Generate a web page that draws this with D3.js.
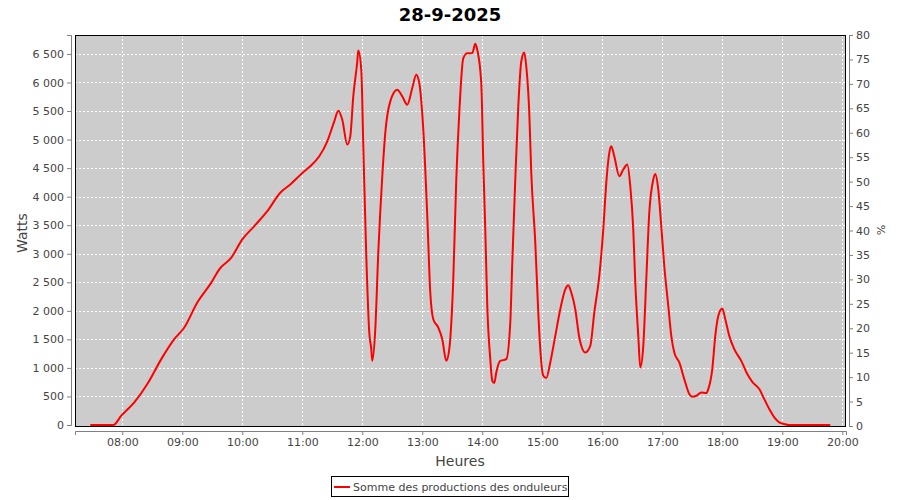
<!DOCTYPE html>
<html><head><meta charset="utf-8">
<script src="https://cdn.jsdelivr.net/npm/d3@7"></script>
<style>body{margin:0;background:#fff;} svg{display:block;font-family:"DejaVu Sans",sans-serif;}</style>
</head><body><svg id="c" width="900" height="500"></svg>
<script>
const title = "28-9-2025";
const seriesName = "Somme des productions des onduleurs";
const times = ["07:28","07:51","07:59","08:12","08:26","08:39","08:52","09:02","09:15","09:29","09:37","09:49","10:00","10:12","10:25","10:38","10:48","11:02","11:08","11:17","11:25","11:32","11:36","11:40","11:45","11:48","11:51","11:55","11:56","11:59","12:01","12:04","12:07","12:09","12:10","12:13","12:16","12:20","12:23","12:28","12:35","12:40","12:45","12:50","12:54","12:57","13:01","13:05","13:08","13:11","13:16","13:20","13:24","13:27","13:31","13:34","13:37","13:41","13:45","13:50","13:53","13:55","13:59","14:01","14:03","14:05","14:08","14:10","14:12","14:14","14:18","14:21","14:24","14:28","14:30","14:33","14:36","14:39","14:42","14:44","14:47","14:49","14:53","14:56","14:58","15:01","15:04","15:08","15:13","15:18","15:23","15:26","15:29","15:33","15:37","15:43","15:48","15:52","15:57","16:01","16:04","16:07","16:09","16:12","16:17","16:21","16:25","16:28","16:31","16:33","16:36","16:38","16:41","16:44","16:47","16:51","16:53","16:56","16:59","17:02","17:06","17:09","17:12","17:17","17:22","17:27","17:30","17:34","17:39","17:44","17:46","17:50","17:53","17:56","18:00","18:03","18:07","18:12","18:19","18:25","18:30","18:37","18:42","18:47","18:52","18:57","19:02","19:07","19:48"];
const watts = [0,0,163,397,746,1154,1503,1708,2145,2494,2727,2931,3251,3484,3746,4068,4213,4446,4533,4708,4970,5319,5506,5349,4912,5057,5756,6368,6560,6223,4900,2960,1620,1328,1124,1678,3019,4358,5116,5669,5873,5756,5611,5903,6136,5990,5174,3659,2320,1853,1708,1503,1124,1328,2552,4300,5466,6427,6514,6514,6677,6572,5990,4592,3426,2086,1154,774,734,921,1124,1136,1154,1795,2844,4300,5582,6368,6525,6281,5466,4416,3194,1970,1328,862,822,1096,1561,2028,2377,2447,2320,2028,1533,1271,1386,1970,2610,3426,4242,4766,4882,4708,4358,4475,4562,4183,3426,2494,1561,1008,1386,2552,3718,4300,4399,4125,3484,2785,2086,1561,1271,1096,804,542,495,512,571,559,629,979,1561,1910,2040,1853,1561,1328,1124,892,757,629,454,280,134,47,17,0,0];
const hourTicks = ["08:00","09:00","10:00","11:00","12:00","13:00","14:00","15:00","16:00","17:00","18:00","19:00","20:00"];
const wattTicks = [0,500,1000,1500,2000,2500,3000,3500,4000,4500,5000,5500,6000,6500];
const pctTicks = [0,5,10,15,20,25,30,35,40,45,50,55,60,65,70,75,80];

const toH = s => { const [h,m] = s.split(":").map(Number); return h + m/60; };
const data = times.map((t,i)=>({t:toH(t), v:watts[i]}));

const L=75, R=846, T=35, B=426;
const svg = d3.select("#c");
const x = d3.scaleLinear().domain([7.212, 20.062]).range([L, R]);
const y = d3.scaleLinear().domain([0, 6832]).range([B-1, T]);
const y2 = d3.scaleLinear().domain([0, 80]).range([B, T]);
const fmt = d => d3.format(",")(d).replace(/,/g, " ");

svg.append("text").attr("x",450).attr("y",21).attr("text-anchor","middle")
  .attr("font-size",18).attr("font-weight","bold").attr("fill","#000").text(title);

svg.append("rect").attr("x",L).attr("y",T).attr("width",R-L).attr("height",B-T).attr("fill","#cccccc");

const g = svg.append("g");
hourTicks.forEach(h=>{
  const xx = Math.round(x(toH(h)))+0.5;
  g.append("line").attr("x1",xx).attr("x2",xx).attr("y1",T).attr("y2",B)
   .attr("stroke","#fff").attr("stroke-dasharray","2,2");
});
wattTicks.forEach(v=>{
  const yy = Math.round(y(v))+0.5;
  if (v===0) return;
  g.append("line").attr("x1",L).attr("x2",R).attr("y1",yy).attr("y2",yy)
   .attr("stroke","#fff").attr("stroke-dasharray","2,2");
});

svg.append("rect").attr("x",L+0.5).attr("y",T+0.5).attr("width",R-L-1).attr("height",B-T)
  .attr("fill","none").attr("stroke","#000").attr("stroke-width",1);

svg.append("clipPath").attr("id","clip").append("rect").attr("x",L).attr("y",T).attr("width",R-L).attr("height",B-T+2);
const line = d3.line().x(d=>x(d.t)).y(d=>y(d.v)).curve(d3.curveMonotoneX);
svg.append("path").datum(data).attr("d",line).attr("fill","none").attr("stroke","#ff0000")
  .attr("stroke-width",2).attr("clip-path","url(#clip)");

// left axis
const ya = d3.axisLeft(y).tickValues(wattTicks).tickFormat(fmt).tickSizeOuter(0).tickSize(4).tickPadding(3);
const gy = svg.append("g").attr("transform","translate(71,0)").call(ya);
// right axis
const ya2 = d3.axisRight(y2).tickValues(pctTicks).tickSizeOuter(0).tickSize(4).tickPadding(3);
const gy2 = svg.append("g").attr("transform","translate(849,0)").call(ya2);
// bottom axis
const xa = d3.axisBottom(x).tickValues(hourTicks.map(toH)).tickFormat((d,i)=>hourTicks[i]).tickSizeOuter(0).tickSize(4).tickPadding(3);
const gx = svg.append("g").attr("transform","translate(0,431)").call(xa);
[gy,gy2,gx].forEach(a=>{
  a.selectAll(".domain").attr("stroke","#808080");
  a.selectAll(".tick line").attr("stroke","#808080");
  a.selectAll("text").attr("font-size",11).attr("fill","#444").attr("font-family","DejaVu Sans");
});

svg.append("text").attr("transform","translate(27,233) rotate(-90)").attr("text-anchor","middle")
  .attr("font-size",14).attr("fill","#444").text("Watts");
svg.append("text").attr("transform","translate(877,230) rotate(90)").attr("text-anchor","middle")
  .attr("font-size",11).attr("fill","#444").text("%");
svg.append("text").attr("x",460).attr("y",466).attr("text-anchor","middle")
  .attr("font-size",14).attr("fill","#444").text("Heures");

// legend
const lg = svg.append("g");
lg.append("rect").attr("x",331.5).attr("y",476.5).attr("width",237).attr("height",20).attr("fill","#fff").attr("stroke","#000");
lg.append("line").attr("x1",334).attr("x2",350).attr("y1",487).attr("y2",487).attr("stroke","#ff0000").attr("stroke-width",2);
lg.append("text").attr("x",353).attr("y",491).attr("font-size",11).attr("fill","#444").text(seriesName);
</script></body></html>
